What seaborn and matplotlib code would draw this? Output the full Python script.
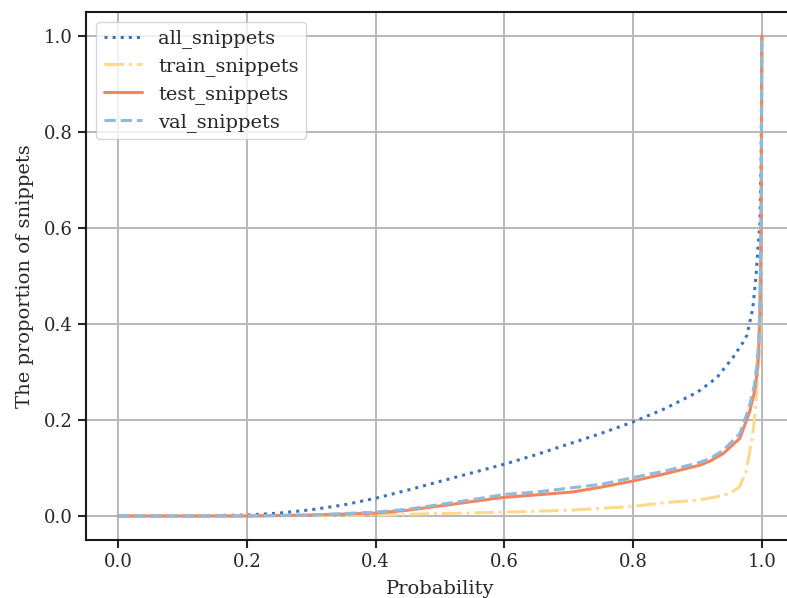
import numpy as np
import pandas as pd
import matplotlib
matplotlib.use("Agg")
import matplotlib.pyplot as plt
import seaborn as sns

# ---------------- DATA ----------------
all_prob = [0.0, 0.1, 0.2, 0.25, 0.3, 0.35, 0.4, 0.45, 0.5, 0.55, 0.6, 0.65, 0.7,
            0.75, 0.8, 0.85, 0.9, 0.93, 0.955, 0.97, 0.977, 0.986, 0.991, 0.994,
            0.997, 0.999, 1.0]
all_prop = [0.0, 0.0, 0.002, 0.006, 0.013, 0.023, 0.037, 0.054, 0.072, 0.09, 0.108,
            0.128, 0.15, 0.172, 0.196, 0.224, 0.258, 0.288, 0.33, 0.36, 0.377,
            0.433, 0.5, 0.558, 0.61, 0.75, 1.0]

train_prob = [0.0, 0.2, 0.3, 0.4, 0.5, 0.6, 0.7, 0.75, 0.8, 0.85, 0.9, 0.93, 0.95,
              0.965, 0.975, 0.985, 0.99, 0.994, 0.997, 0.999, 1.0]
train_prop = [0.0, 0.0, 0.001, 0.002, 0.005, 0.008, 0.012, 0.016, 0.02, 0.028, 0.033,
              0.04, 0.047, 0.06, 0.09, 0.16, 0.22, 0.3, 0.35, 0.5, 1.0]

test_prob = [0.0, 0.2, 0.3, 0.35, 0.4, 0.45, 0.5, 0.55, 0.6, 0.65, 0.706, 0.75, 0.8,
             0.85, 0.904, 0.919, 0.94, 0.966, 0.981, 0.988, 0.992, 0.995, 0.997,
             0.999, 1.0]
test_prop = [0.0, 0.0, 0.002, 0.004, 0.006, 0.012, 0.021, 0.03, 0.039, 0.044, 0.05,
             0.06, 0.073, 0.088, 0.106, 0.114, 0.13, 0.162, 0.217, 0.255, 0.29,
             0.34, 0.42, 0.6, 1.0]

val_prob = [0.0, 0.2, 0.3, 0.35, 0.4, 0.45, 0.5, 0.55, 0.6, 0.65, 0.7, 0.75, 0.8,
            0.85, 0.9, 0.92, 0.94, 0.966, 0.98, 0.988, 0.992, 0.995, 0.997, 0.999,
            1.0]
val_prop = [0.0, 0.0, 0.002, 0.005, 0.008, 0.014, 0.024, 0.034, 0.045, 0.05, 0.058,
            0.066, 0.08, 0.094, 0.11, 0.12, 0.137, 0.172, 0.225, 0.27, 0.31, 0.36,
            0.44, 0.62, 1.0]

series = [
    ("all_snippets", all_prob, all_prop, "#3b73c0", ":"),
    ("train_snippets", train_prob, train_prop, "#fdd98a", "-."),
    ("test_snippets", test_prob, test_prop, "#f5845a", "-"),
    ("val_snippets", val_prob, val_prop, "#8fbbdf", "--"),
]

# ---------------- STYLE ----------------
sns.set_style("ticks", {"axes.grid": True, "grid.color": "#b8b8bc",
                        "axes.edgecolor": "#1a1a1a"})
plt.rcParams["font.family"] = ["DejaVu Serif"]

fig = plt.figure(figsize=(7.87, 5.98), dpi=100)
ax = fig.add_axes([86 / 787, 1 - 540 / 598, 708 / 787, 528 / 598])

for name, xs, ys, color, ls in series:
    df = pd.DataFrame({"Probability": xs, "prop": ys})
    sns.lineplot(data=df, x="Probability", y="prop", ax=ax, color=color,
                 linestyle=ls, linewidth=2.2, label=name)

ax.set_xlim(-0.05, 1.05)
ax.set_ylim(-0.05, 1.05)
ax.set_xticks(np.arange(0, 1.01, 0.2))
ax.set_yticks(np.arange(0, 1.01, 0.2))
ax.grid(True, linewidth=1.4, color="#b8b8bc")
ax.tick_params(labelsize=13, length=6, width=1.5, direction="out")
for s in ax.spines.values():
    s.set_linewidth(1.5)

ax.set_xlabel("Probability", fontsize=14, labelpad=6)
ax.set_ylabel("The proportion of snippets", fontsize=14, labelpad=7)

ax.legend(loc="upper left", fontsize=14, handlelength=2.0, framealpha=0.8,
          labelspacing=0.45)

fig.savefig("out.png", dpi=100)
